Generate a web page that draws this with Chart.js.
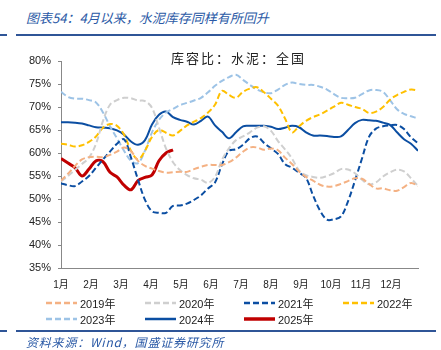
<!DOCTYPE html>
<html>
<head>
<meta charset="utf-8">
<script src="https://cdn.jsdelivr.net/npm/chart.js@4.4.1/dist/chart.umd.min.js"></script>
<style>
  body { margin: 0; width: 441px; height: 350px; background: #fff; position: relative; overflow: hidden;
         font-family: "Liberation Sans", "Noto Sans CJK SC", sans-serif; }
  .title { position: absolute; left: 26px; top: 8px; font-size: 13px; color: #2B5AA6; font-style: italic;
           font-family: "Noto Sans CJK SC", sans-serif; }
  .rule { position: absolute; height: 2px; background: #2F5597; }
  .sub { position: absolute; left: 0; width: 441px; top: 48px; text-align: center; padding-left: 36px; box-sizing: border-box;
         font-size: 13px; letter-spacing: 2px; color: #222; font-family: "Noto Sans CJK SC", sans-serif; }
  #wrap { position: absolute; left: 0; top: 40px; width: 441px; height: 260px; }
  #legend { position: absolute; left: 46px; top: 295px; width: 400px; }
  .item { position: absolute; font-size: 11px; color: #222; white-space: nowrap; font-family: "Liberation Sans", "Noto Sans CJK SC", sans-serif; }
  .item svg { position: absolute; left: 0; top: 6px; }
  .item span { position: absolute; left: 34px; top: 0; }
  .source { position: absolute; left: 26px; top: 333px; font-size: 12px; letter-spacing: 0.8px; color: #2B5AA6; font-style: italic;
            font-family: "Noto Sans CJK SC", sans-serif; }
</style>
</head>
<body>
<div class="title">图表54：4月以来，水泥库存同样有所回升</div>
<div class="rule" style="left:0;width:7px;top:34px"></div>
<div class="rule" style="left:16px;width:420px;top:34px"></div>
<div id="wrap"><canvas id="chart" width="441" height="260"></canvas></div>
<div class="sub">库容比：水泥：全国</div>
<div id="legend"></div>
<div class="rule" style="left:0;width:7px;top:330px"></div>
<div class="rule" style="left:16px;width:420px;top:330px"></div>
<div class="source">资料来源：Wind，国盛证券研究所</div>
<script>
const weeks = Array.from({ length: 52 }, (_, i) => i);
const monthLabels = ['1月', '2月', '3月', '4月', '5月', '6月', '7月', '8月', '9月', '10月', '11月', '12月'];
const weeksPerMonth = 30 / 7;

const y2019 = [54.0, 55.5, 57.2, 58.6, 59.1, 59.2, 59.1, 59.6, 60.3, 61.2, 60.4, 58.3, 57.2, 56.6, 56.1, 55.7, 55.8, 55.9, 55.9, 56.5, 57.0, 57.4, 57.4, 57.4, 58.0, 59.0, 60.3, 61.2, 61.2, 60.7, 61.0, 60.6, 59.0, 57.6, 56.0, 54.8, 54.0, 53.1, 52.7, 52.8, 53.3, 53.9, 54.5, 54.4, 53.3, 52.3, 52.3, 51.9, 51.8, 52.6, 53.5, 52.8];
const y2020 = [53.8, 55.0, 56.3, 57.6, 59.0, 62.0, 67.0, 70.5, 71.5, 72.0, 71.9, 71.4, 71.3, 69.8, 65.5, 61.0, 58.0, 56.3, 55.2, 54.5, 54.2, 53.5, 54.8, 58.5, 61.0, 62.8, 63.6, 64.5, 65.5, 65.8, 64.8, 62.6, 60.8, 58.8, 56.2, 55.2, 54.8, 54.6, 55.0, 55.6, 56.5, 56.4, 55.6, 54.2, 53.2, 53.6, 54.9, 55.8, 56.4, 56.0, 54.5, 52.8];
const y2021 = [53.4, 53.0, 52.8, 53.8, 55.0, 56.8, 58.6, 60.3, 62.0, 63.0, 59.0, 54.2, 49.8, 47.3, 47.0, 47.0, 48.5, 48.6, 49.0, 49.8, 50.8, 52.3, 53.6, 57.5, 60.5, 60.8, 61.8, 63.2, 63.6, 62.2, 61.0, 59.8, 57.6, 56.8, 55.7, 54.6, 50.8, 47.5, 45.5, 45.6, 46.2, 49.5, 54.0, 58.8, 63.5, 65.3, 65.8, 66.0, 66.1, 65.2, 63.4, 62.1];
const y2022 = [62.0, 61.8, 61.4, 61.7, 62.4, 63.6, 65.5, 66.3, 65.9, 64.0, 60.5, 58.6, 60.5, 63.5, 65.0, 64.4, 63.8, 64.8, 66.0, 66.8, 67.6, 68.8, 70.5, 73.5, 72.6, 72.0, 73.3, 74.0, 74.3, 73.2, 71.8, 70.3, 67.5, 64.5, 65.8, 67.0, 67.8, 68.4, 69.2, 70.1, 70.9, 70.5, 70.0, 69.6, 68.7, 69.0, 70.0, 71.6, 72.6, 73.3, 73.8, 73.6];
const y2023 = [73.3, 72.2, 71.8, 71.8, 71.5, 71.0, 68.8, 65.8, 63.2, 60.5, 58.3, 57.8, 60.5, 64.5, 67.2, 68.8, 69.6, 70.4, 70.9, 71.4, 72.0, 73.2, 74.6, 75.7, 76.5, 77.0, 75.9, 74.8, 73.8, 73.2, 73.0, 73.8, 74.8, 75.3, 75.0, 74.8, 74.8, 74.4, 73.8, 72.8, 72.0, 71.9, 72.0, 72.8, 73.6, 73.7, 73.3, 71.5, 69.5, 68.5, 68.0, 67.5];
const y2024 = [66.7, 66.7, 66.6, 66.4, 66.0, 65.6, 65.5, 65.4, 64.9, 64.0, 62.5, 61.8, 62.8, 66.2, 68.3, 69.0, 67.8, 67.2, 66.8, 66.2, 67.0, 67.9, 66.0, 64.6, 63.2, 64.5, 65.8, 65.9, 65.9, 65.9, 65.7, 65.2, 65.5, 65.9, 65.6, 64.5, 63.8, 63.8, 63.7, 63.5, 63.6, 65.0, 66.5, 67.2, 67.1, 67.0, 66.6, 66.1, 64.5, 63.0, 62.0, 60.5];
const y2025 = [58.8, 57.8, 56.8, 55.0, 56.5, 58.3, 58.1, 55.8, 54.8, 53.0, 52.0, 54.0, 54.7, 55.2, 58.3, 60.0, 60.7];

const series = [
  { label: '2019年', data: y2019, color: '#F4B183', dash: [6, 3], width: 2 },
  { label: '2020年', data: y2020, color: '#CFCFCF', dash: [6, 3], width: 2 },
  { label: '2021年', data: y2021, color: '#0B4EA2', dash: [6, 3], width: 2 },
  { label: '2022年', data: y2022, color: '#FFC000', dash: [6, 3], width: 2 },
  { label: '2023年', data: y2023, color: '#9DC3E6', dash: [6, 3], width: 2 },
  { label: '2024年', data: y2024, color: '#0B4EA2', dash: [], width: 2 },
  { label: '2025年', data: y2025, color: '#C00000', dash: [], width: 3 }
];

const ctx = document.getElementById('chart').getContext('2d');
new Chart(ctx, {
  type: 'line',
  data: {
    labels: weeks,
    datasets: series.map(s => ({
      label: s.label,
      data: s.data,
      borderColor: s.color,
      backgroundColor: s.color,
      borderDash: s.dash,
      borderWidth: s.width,
      pointRadius: 0,
      tension: 0.35,
      fill: false
    }))
  },
  options: {
    responsive: false,
    animation: false,
    layout: { padding: { top: 21, right: 23, left: 0, bottom: 0 } },
    plugins: { legend: { display: false }, tooltip: { enabled: false } },
    scales: {
      x: {
        type: 'linear',
        min: 0,
        max: 51,
        afterBuildTicks: function(scale) {
          scale.ticks = monthLabels.map((m, k) => ({ value: k * weeksPerMonth }));
        },
        afterFit: function(scale) { scale.height = 32; },
        ticks: {
          autoSkip: false,
          maxRotation: 0,
          padding: 3,
          color: '#222',
          font: { size: 10, family: '"Liberation Sans", "Noto Sans CJK SC", sans-serif' },
          callback: function(value, index) { return monthLabels[index]; }
        },
        grid: { display: false },
        border: { display: true, color: '#888', width: 1 }
      },
      y: {
        min: 35,
        max: 80,
        afterFit: function(scale) { scale.width = 61; },
        ticks: {
          stepSize: 5,
          padding: 7,
          color: '#222',
          font: { size: 11, family: '"Liberation Sans", sans-serif' },
          callback: function(v) { return v + '%'; }
        },
        grid: { display: true, drawOnChartArea: false, drawTicks: true, tickLength: 3, color: '#888' },
        border: { display: true, color: '#888', width: 1 }
      }
    }
  }
});

// legend built from the series list
const legend = document.getElementById('legend');
series.forEach((s, i) => {
  const col = i % 4, row = Math.floor(i / 4);
  const el = document.createElement('div');
  el.className = 'item';
  el.style.left = (col * 99) + 'px';
  el.style.top = (row * 16) + 'px';
  const dash = s.dash.length ? 'stroke-dasharray="6 3"' : '';
  el.innerHTML = '<svg width="31" height="4"><line x1="0" y1="2" x2="31" y2="2" stroke="' + s.color + '" stroke-width="' + (s.width + 0.5) + '" ' + dash + '/></svg><span>' + s.label + '</span>';
  legend.appendChild(el);
});
</script>
</body>
</html>
